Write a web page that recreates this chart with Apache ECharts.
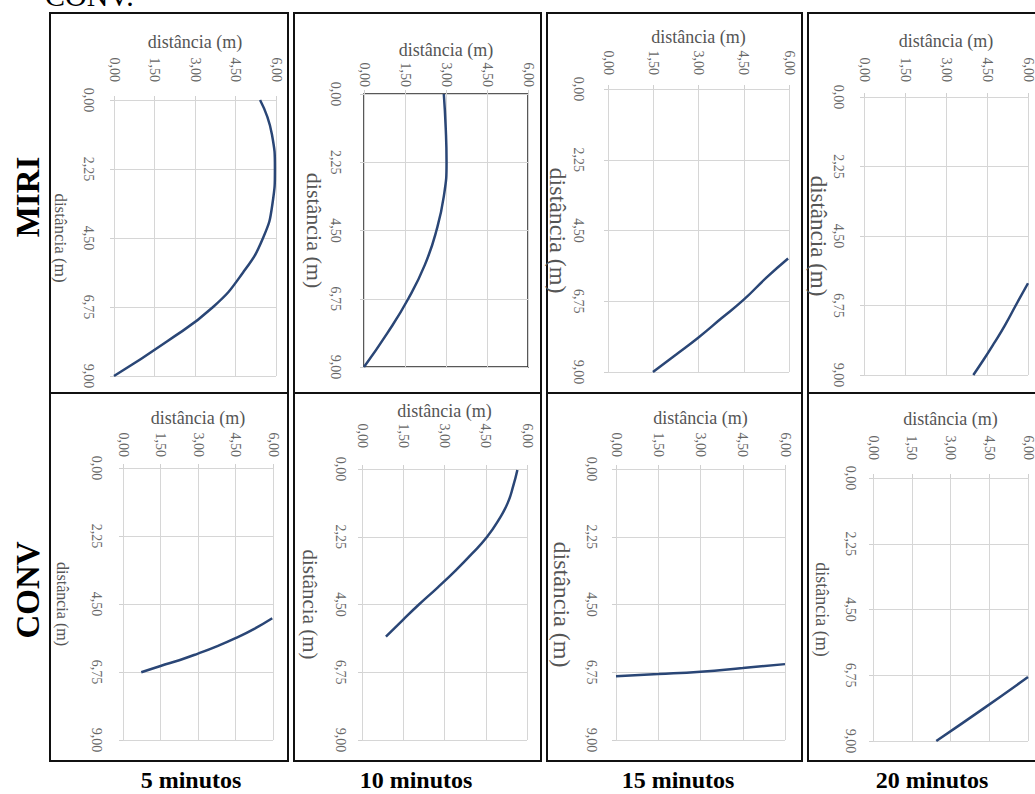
<!DOCTYPE html>
<html>
<head>
<meta charset="utf-8">
<script src="https://cdn.jsdelivr.net/npm/echarts@6/dist/echarts.min.js"></script>
<style>
  html, body { margin: 0; padding: 0; background: #fff; }
  #chart { width: 1035px; height: 794px; }
</style>
</head>
<body>
<div id="chart"></div>
<script>
// values: [horizontal distance, vertical distance] in m
const miri5  = [[5.41,0],[5.85,1.125],[5.96,2.25],[5.87,3.375],[5.52,4.5],[4.78,5.625],[3.67,6.75],[1.96,7.875],[0,9]]
const miri10 = [[2.92,0],[2.99,1.125],[3.02,2.25],[2.92,3.375],[2.65,4.5],[2.23,5.625],[1.62,6.75],[0.86,7.875],[0,9]]
const miri15 = [[5.97,5.39],[5.25,6.0],[4.5,6.7],[3.75,7.3],[3.0,7.9],[2.25,8.45],[1.49,9]]
const miri20 = [[6.0,6.03],[5.55,6.75],[5.15,7.4],[4.76,7.97],[4.38,8.5],[4.0,9]]
const conv5  = [[5.97,4.97],[5.25,5.32],[4.5,5.63],[3.75,5.9],[3.0,6.14],[2.25,6.36],[1.5,6.55],[0.73,6.76]]
const conv10 = [[5.65,0.03],[5.5,0.5625],[5.3,1.125],[4.97,1.6875],[4.55,2.25],[4.0,2.8125],[3.4,3.375],[2.75,3.9375],[2.07,4.5],[1.5,5.0],[0.87,5.57]]
const conv15 = [[0,6.88],[1.5,6.81],[3.0,6.73],[4.5,6.61],[6.0,6.48]]
const conv20 = [[2.45,9],[4.3,7.875],[6.0,6.81]]

const seriesData = [miri5, miri10, miri15, miri20, conv5, conv10, conv15, conv20]
const rowLabels = ['MIRI', 'CONV']
const colLabels = ['5 minutos', '10 minutos', '15 minutos', '20 minutos']
const axisName = 'distância (m)'
const xMax = 6, xStep = 1.5
const yMax = 9, yStep = 2.25

// layout of each cell: outer box, plot area, label/name placement
const panels = [
  {box:[50,13,288,393],   plot:[114,100,276,376], tm:18, tn:42,  lm:19, ln:60,  lf:17},
  {box:[294,13,541,393],  plot:[364,94,528,367],  tm:7,  tn:50,  lm:22, ln:314, lf:22, frame:true},
  {box:[547,13,802,393],  plot:[608,89,789,372],  tm:14, tn:37,  lm:23, ln:564, lf:24},
  {box:[808,13,1045,393], plot:[864,97,1033,375], tm:15, tn:41,  lm:19, ln:821, lf:23},
  {box:[50,393,288,761],  plot:[123,468,273,740], tm:11, tn:418, lm:20, ln:62,  lf:16},
  {box:[294,393,541,761], plot:[362,469,527,740], tm:21, tn:414, lm:15, ln:310, lf:21},
  {box:[547,393,802,761], plot:[616,469,785,740], tm:12, tn:418, lm:18, ln:562, lf:24},
  {box:[808,393,1045,761],plot:[873,478,1033,741],tm:18, tn:419, lm:16, ln:822, lf:18}
]

const serif = '"Liberation Serif", "Times New Roman", serif'
const fmt = v => v.toFixed(2).replace('.', ',')
const topFont = 18

const grids = [], xAxes = [], yAxes = [], series = [], graphics = []

panels.forEach((p, i) => {
  const [l, t, r, b] = p.plot
  grids.push({
    left: l, top: t, width: r - l, height: b - t,
    show: !!p.frame, borderColor: '#222', borderWidth: 1.5, backgroundColor: 'transparent'
  })
  xAxes.push({
    type: 'value', gridIndex: i, position: 'top',
    min: 0, max: xMax, interval: xStep,
    name: axisName, nameLocation: 'middle',
    nameGap: t - p.tn - topFont / 2,
    nameTextStyle: {fontFamily: serif, fontSize: topFont, color: '#555'},
    axisLine: {show: false},
    axisTick: {show: true, length: 4, lineStyle: {color: '#d0d0d0'}},
    axisLabel: {rotate: -90, margin: p.tm, formatter: fmt, fontFamily: serif, fontSize: 14, color: '#666'},
    splitLine: {show: true, lineStyle: {color: '#d6d6d6', width: 1}}
  })
  yAxes.push({
    type: 'value', gridIndex: i, inverse: true,
    min: 0, max: yMax, interval: yStep,
    name: axisName, nameLocation: 'middle', nameRotate: -90,
    nameGap: l - p.ln - p.lf / 2,
    nameTextStyle: {fontFamily: serif, fontSize: p.lf, color: '#555'},
    axisLine: {show: false},
    axisTick: {show: true, length: 4, lineStyle: {color: '#d0d0d0'}},
    axisLabel: {rotate: -90, margin: p.lm, formatter: fmt, fontFamily: serif, fontSize: 14, color: '#666'},
    splitLine: {show: true, lineStyle: {color: '#d6d6d6', width: 1}}
  })
  series.push({
    type: 'line', xAxisIndex: i, yAxisIndex: i,
    data: seriesData[i], smooth: 0.5, showSymbol: false,
    lineStyle: {color: '#2a4676', width: 2.5}
  })
  const [bl, bt, br, bb] = p.box
  graphics.push({
    type: 'rect', silent: true,
    shape: {x: bl, y: bt, width: br - bl, height: bb - bt},
    style: {fill: 'none', stroke: '#111', lineWidth: 2}
  })
})

graphics.push({
  type: 'text', x: 45, y: -5,
  style: {text: 'CONV.', font: '30px ' + serif, fill: '#000', verticalAlign: 'middle'}
})
const rowY = [197, 590]
rowLabels.forEach((txt, k) => {
  graphics.push({
    type: 'text', x: 28, y: rowY[k], rotation: Math.PI / 2,
    style: {text: txt, font: 'bold 33px ' + serif, fill: '#000', align: 'center', verticalAlign: 'middle'}
  })
})
const colX = [191, 416, 678, 932]
colLabels.forEach((txt, k) => {
  graphics.push({
    type: 'text', x: colX[k], y: 780,
    style: {text: txt, font: 'bold 24px ' + serif, fill: '#000', align: 'center', verticalAlign: 'middle'}
  })
})

const chart = echarts.init(document.getElementById('chart'), null, {renderer: 'svg'})
chart.setOption({
  animation: false,
  backgroundColor: '#fff',
  grid: grids,
  xAxis: xAxes,
  yAxis: yAxes,
  series: series,
  graphic: graphics
})
</script>
</body>
</html>
